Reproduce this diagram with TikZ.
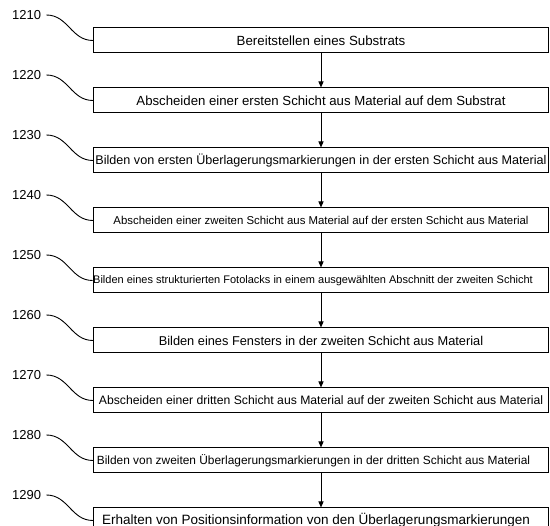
\documentclass[tikz,border=0pt]{standalone}
\usepackage{fontspec}
\setmainfont{Liberation Sans}
\usetikzlibrary{arrows.meta}
\tikzset{
  stepbox/.style={draw, line width=1pt, rectangle, minimum width=455pt, minimum height=25pt, inner sep=0pt},
  numlabel/.style={anchor=west, inner xsep=5pt, inner ysep=0pt, font=\fontsize{13}{15}\selectfont},
  flowarrow/.style={line width=1pt, -{Triangle[length=6pt,width=5pt]}},
  lead/.style={line width=0.9pt}
}
\newcommand{\fs}[1]{\fontsize{#1}{#1}\selectfont}
\begin{document}
\begin{tikzpicture}[x=1pt,y=-1pt]
\useasboundingbox (0,0) rectangle (550,526);
\clip (0,0) rectangle (550,526);
\node[stepbox] (b1) at (321,40.5) {\fs{13.3}Bereitstellen eines Substrats};
\node[stepbox] (b2) at (321,100.5) {\fs{13.2}Abscheiden einer ersten Schicht aus Material auf dem Substrat};
\node[stepbox] (b3) at (321,160.5) {\fs{12.6}Bilden von ersten Überlagerungsmarkierungen in der ersten Schicht aus Material};
\node[stepbox] (b4) at (321,220.5) {\fs{11.4}Abscheiden einer zweiten Schicht aus Material auf der ersten Schicht aus Material};
\node[stepbox] (b5) at (321,280.5) {\fs{11.0}Bilden eines strukturierten Fotolacks in einem ausgewählten Abschnitt der zweiten Schicht\hspace*{16pt}};
\node[stepbox] (b6) at (321,340.5) {\fs{12.8}Bilden eines Fensters in der zweiten Schicht aus Material};
\node[stepbox] (b7) at (321,400.5) {\fs{12.2}Abscheiden einer dritten Schicht aus Material auf der zweiten Schicht aus Material};
\node[stepbox] (b8) at (321,460.5) {\fs{11.9}Bilden von zweiten Überlagerungsmarkierungen in der dritten Schicht aus Material\hspace*{15pt}};
\node[stepbox] (b9) at (321,520.5) {\fs{13.5}Erhalten von Positionsinformation von den Überlagerungsmarkierungen\hspace*{10pt}};
\foreach \i/\n in {1/1210,2/1220,3/1230,4/1240,5/1250,6/1260,7/1270,8/1280,9/1290}{
  \node[numlabel] (l\i) at (7,{15+60*(\i-1)}) {\n};
  \draw[lead] (l\i.east) .. controls +(22,0) and +(-22,0) .. (b\i.west);
}
\foreach \i [evaluate=\i as \j using int(\i+1)] in {1,...,8}{
  \draw[flowarrow] (b\i) -- (b\j);
}
\end{tikzpicture}
\end{document}
